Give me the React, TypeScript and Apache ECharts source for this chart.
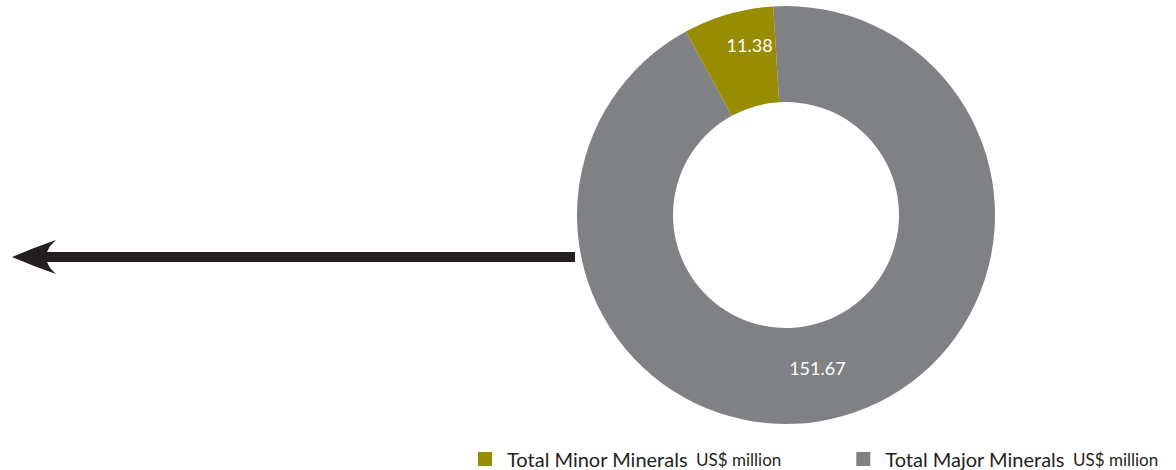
import React, { useEffect, useRef } from "react";
import * as echarts from "echarts";

const categories = ["Total Major Minerals", "Total Minor Minerals"];
const values = [151.67, 11.38];
const legendOrder = ["Total Minor Minerals", "Total Major Minerals"];
const unitLabel = "US$ million";
const colors = ["#808184", "#988c00"];
const labelOffsets = [[-14, -5], [9, -12]];

export default function App() {
  const ref = useRef<HTMLDivElement>(null);
  useEffect(() => {
    document.body.style.margin = "0";
    const chart = echarts.init(ref.current!, null, { renderer: "svg" });
    chart.setOption({
      animation: false,
      legend: {
        data: legendOrder,
        left: 473,
        top: 444,
        icon: "rect",
        itemWidth: 14,
        itemHeight: 14,
        itemGap: 75,
        formatter: (name: string) => `{a|${name}} {b|${unitLabel}}`,
        textStyle: {
          color: "#231f20",
          fontFamily: "Lato",
          rich: {
            a: { fontSize: 20, fontFamily: "Lato", color: "#231f20", padding: [0, 0, 0, 10] },
            b: { fontSize: 17, fontFamily: "Lato", color: "#231f20", padding: [0, 0, 0, 5] },
          },
        },
      },
      graphic: [
        {
          type: "polygon",
          shape: {
            points: [
              [12, 257],
              [34, 248],
              [56, 240],
              [50, 246],
              [47, 252],
              [575, 252],
              [575, 262],
              [47, 262],
              [50, 268],
              [56, 274],
              [34, 266],
            ],
          },
          style: { fill: "#231f20" },
        },
      ],
      series: [
        {
          type: "pie",
          center: [786, 215],
          radius: [113, 209],
          startAngle: 93.5,
          clockwise: true,
          label: {
            show: true,
            position: "inside",
            color: "#ffffff",
            fontSize: 18,
            fontFamily: "Lato",
            formatter: (p: any) => p.value.toFixed(2),
          },
          labelLine: { show: false },
          emphasis: { disabled: true },
          itemStyle: { borderWidth: 0 },
          data: categories.map((c, i) => ({
            name: c,
            value: values[i],
            itemStyle: { color: colors[i] },
            label: { offset: labelOffsets[i] },
          })),
        },
      ],
    });
    return () => chart.dispose();
  }, []);
  return <div ref={ref} style={{ width: 1176, height: 470, position: "absolute", left: 0, top: 0 }} />;
}
